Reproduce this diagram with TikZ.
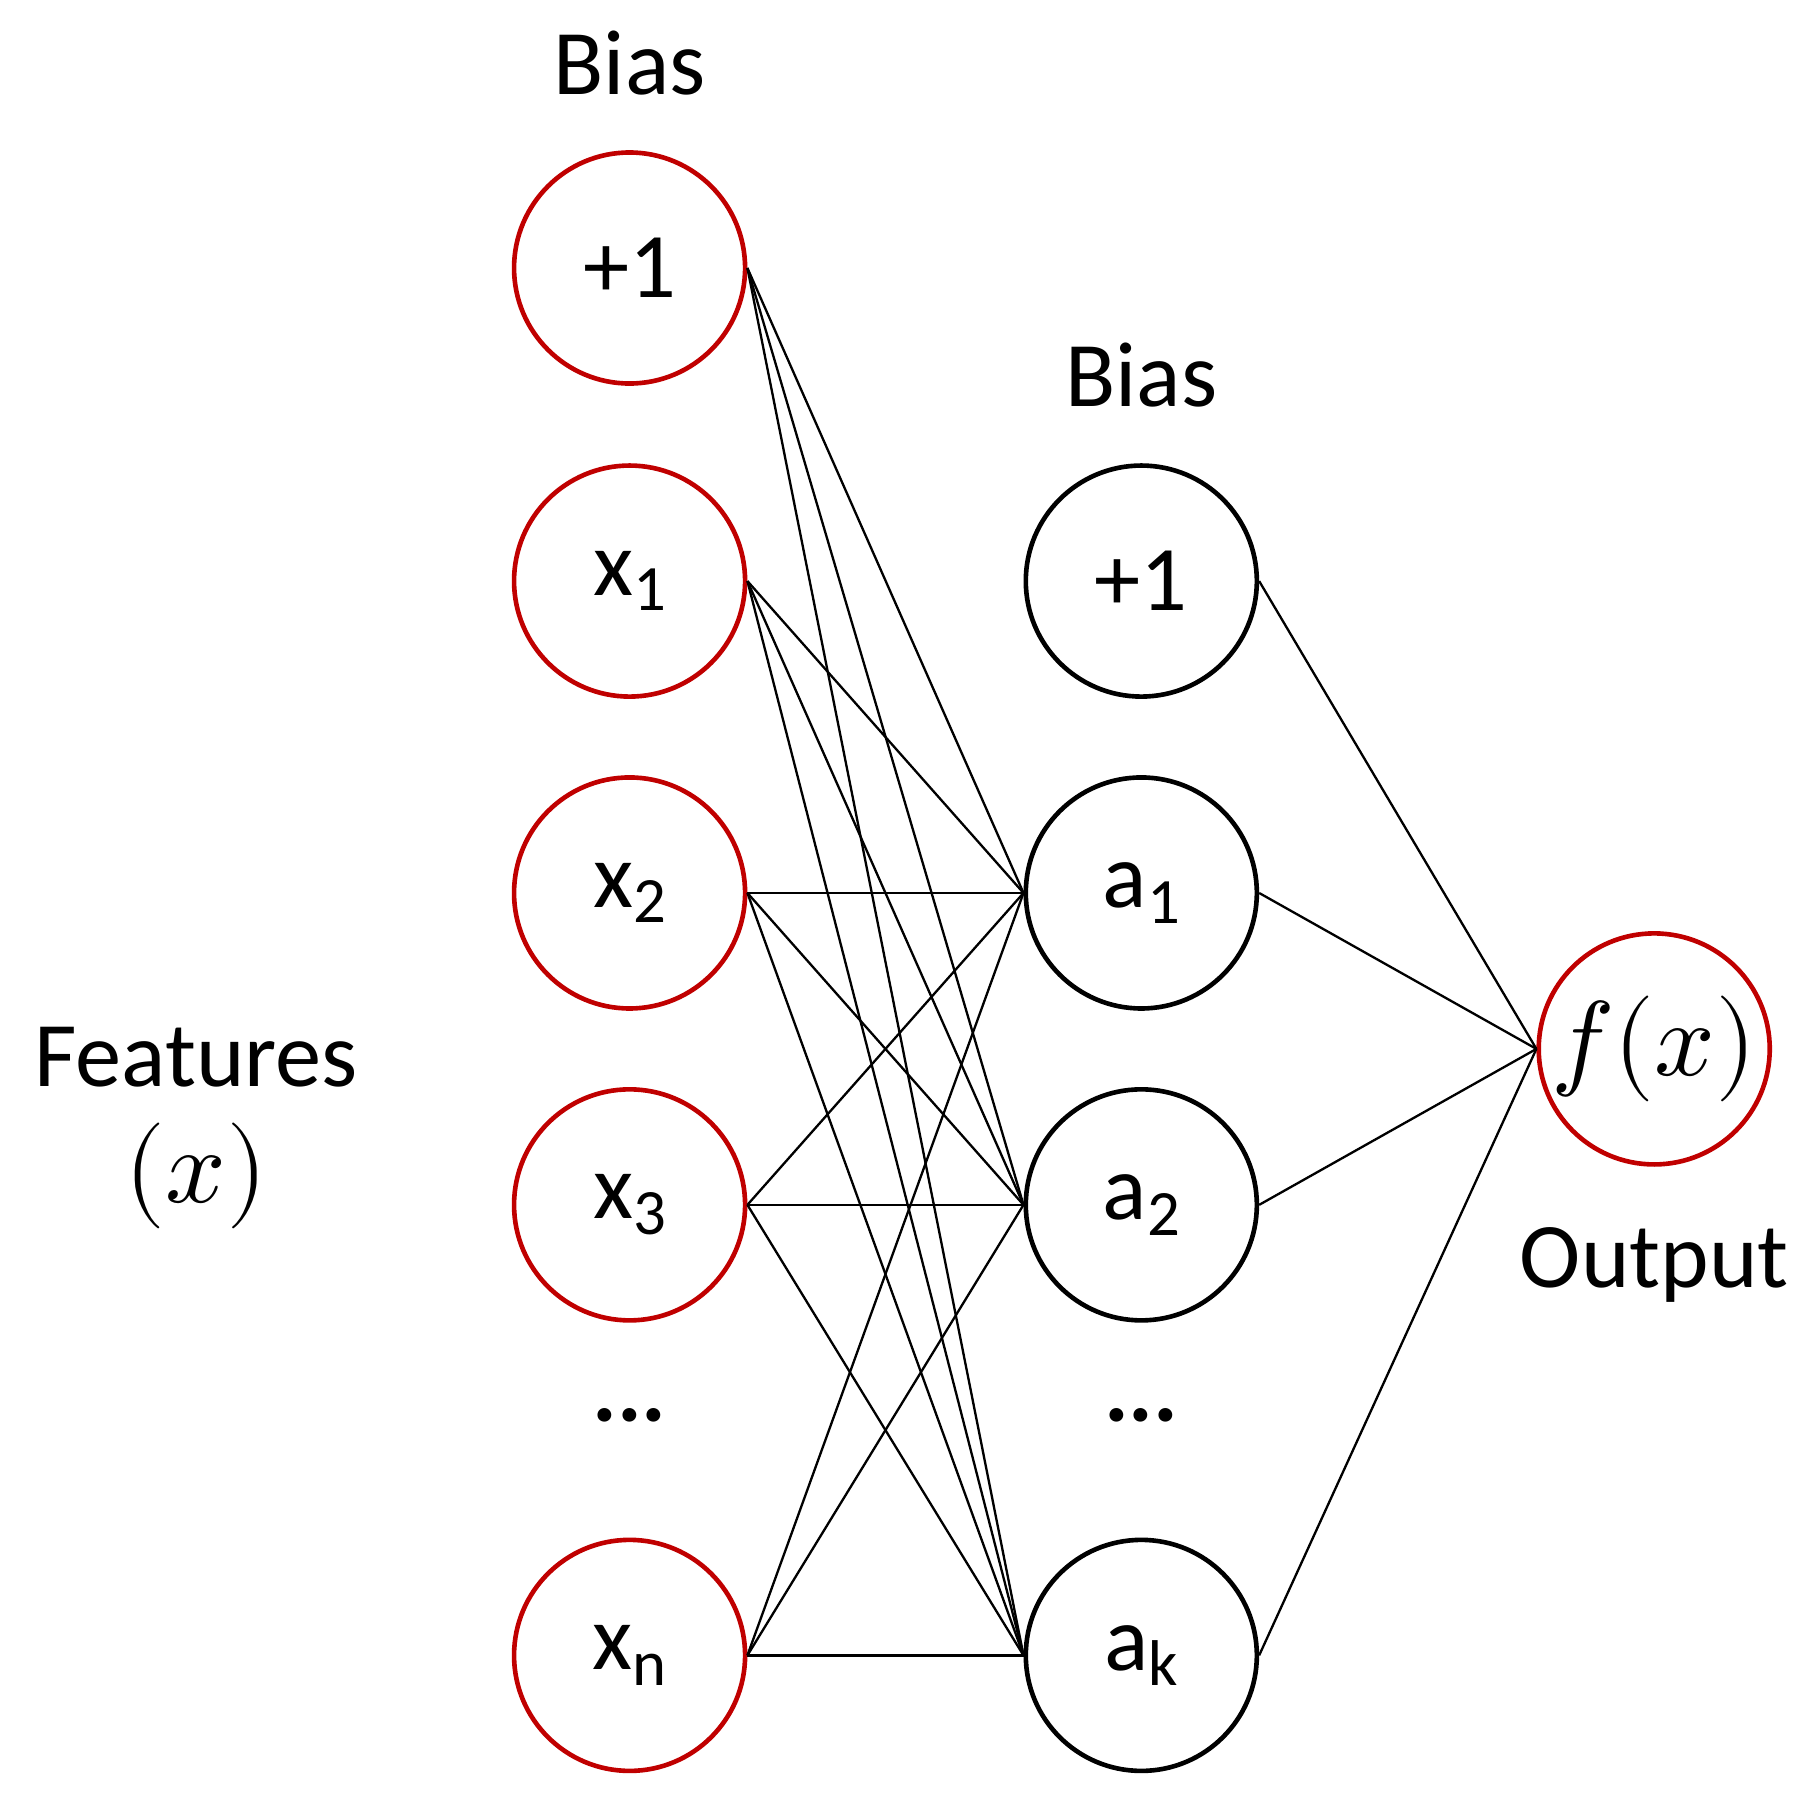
\documentclass[tikz,border=0pt]{standalone}
\usepackage{fontspec}
\usepackage{unicode-math}
\setmainfont{Carlito}
\setmathfont{Latin Modern Math}
\newcommand{\sbx}[1]{\raisebox{-0.35ex}{\fontsize{28}{30}\selectfont #1}}
\begin{document}
\begin{tikzpicture}[x=0.5pt,y=-0.5pt,
  neu/.style={circle,draw,line width=2pt,inner sep=0pt,minimum size=100pt,font=\fontsize{40}{48}\selectfont},
  red/.style={draw={rgb,255:red,192;green,0;blue,0}},
  lbl/.style={font=\fontsize{40}{48}\selectfont},
  edge/.style={line width=1pt}]
\useasboundingbox (0,0) rectangle (1566,1559);
\node[neu,red] (b0) at (545,232) {+1};
\node[neu,red] (x1) at (545,503) {x\sbx{1}};
\node[neu,red] (x2) at (545,773) {x\sbx{2}};
\node[neu,red] (x3) at (545,1043) {x\sbx{3}};
\node[neu,red] (xn) at (545,1433) {x\sbx{n}};
\node[lbl] (d1) at (545,1225) {\textbf{...}};
\node[neu] (b1) at (988,503) {+1};
\node[neu] (a1) at (988,773) {a\sbx{1}};
\node[neu] (a2) at (988,1043) {a\sbx{2}};
\node[neu] (ak) at (988,1433) {a\sbx{k}};
\node[lbl] (d2) at (988,1225) {\textbf{...}};
\node[neu,red,font=\fontsize{46}{52}\selectfont] (f) at (1432,908) {$f(x)$};
\node[lbl] (l1) at (545,55) {Bias};
\node[lbl] (l2) at (988,325) {Bias};
\node[lbl] (l3) at (170,915) {Features};
\node[lbl,font=\fontsize{46}{52}\selectfont] (l4) at (170,1018) {$(x)$};
\node[lbl] (l5) at (1432,1095) {Output};
\foreach \i in {b0,x1,x2,x3,xn}
  \foreach \h in {a1,a2,ak}
    \draw[edge] (\i.east) -- (\h.west);
\foreach \h in {b1,a1,a2,ak}
  \draw[edge] (\h.east) -- (f.west);
\end{tikzpicture}
\end{document}
